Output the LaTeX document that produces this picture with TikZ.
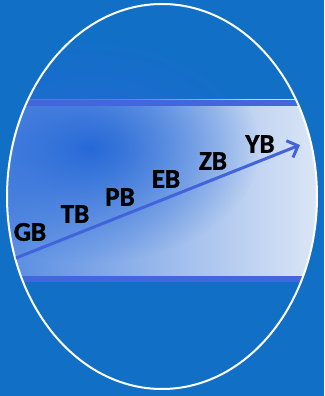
\documentclass[tikz,border=0pt]{standalone}
\usepackage{fontspec}
\setsansfont{Carlito}[BoldFeatures={FakeBold=1.2}]
\usetikzlibrary{arrows.meta, fadings}

\definecolor{bgblue}{RGB}{17,112,198}
\definecolor{stripeblue}{RGB}{68,102,220}
\definecolor{glowblue}{RGB}{38,105,215}
\definecolor{bandleft}{RGB}{85,138,226}
\definecolor{bandright}{RGB}{222,232,246}
\definecolor{arrowblue}{RGB}{65,100,218}

\tikzfading[name=softglow, inner color=transparent!0, outer color=transparent!100]

\begin{document}
\begin{tikzpicture}[x=1pt, y=1pt, >={Straight Barb[length=9pt, width=18pt]}]

\tikzstyle{unit} = [font=\sffamily\bfseries\fontsize{27}{27}\selectfont, text=black, inner sep=0pt, anchor=center]
\tikzstyle{stripe} = [fill=stripeblue]

% background and frame
\fill[bgblue] (0,0) rectangle (324,396);
\useasboundingbox (0,0) rectangle (324,396);

\begin{scope}
  \clip (162,199.5) ellipse (155 and 192.5);
  \shade[left color=bandleft, right color=bandright] (0,114) rectangle (324,296);
  \fill[glowblue, path fading=softglow] (90,248) ellipse (170 and 115);
  \fill[stripe] (0,290) rectangle (324,296);
  \fill[stripe] (0,114) rectangle (324,120);
\end{scope}
\draw[white, line width=2pt] (162,199.5) ellipse (155 and 192.5);

% units along the growth arrow
\node[unit] at (30,164) (gb) {GB};
\node[unit] at (75,182) (tb) {TB};
\node[unit] at (120,199) (pb) {PB};
\node[unit] at (166,217) (eb) {EB};
\node[unit] at (213,235) (zb) {ZB};
\node[unit] at (260,252) (yb) {YB};

\coordinate (start) at (16,138);
\coordinate (tip) at (300,251);
\draw[->, arrowblue, line width=3pt] (start) -- (tip);
\end{tikzpicture}
\end{document}
